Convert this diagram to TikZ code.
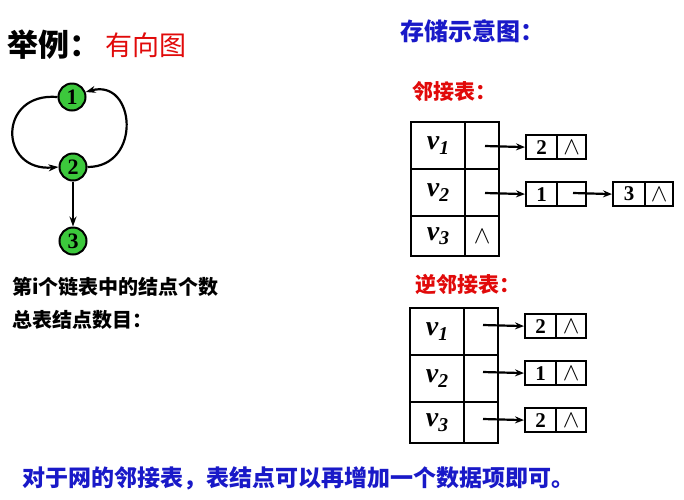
\documentclass[tikz,border=0pt]{standalone}
\usepackage{fontspec}
\newfontfamily\cjk{Noto Sans CJK SC}
\newfontfamily\tms{Liberation Serif}
\usetikzlibrary{arrows.meta}
\definecolor{gnode}{RGB}{60,200,60}
\definecolor{tred}{RGB}{225,10,10}
\definecolor{tblue}{RGB}{25,25,200}
\newcommand\fsz[1]{\fontsize{#1}{#1}\selectfont}
\newcommand\vv[1]{{\tms\bfseries\itshape\fsz{28}v\textsubscript{#1}}}
\newcommand\nil{{\fsz{24}$\wedge$}}
\begin{document}
\begin{tikzpicture}[x=1pt,y=-1pt,
  txt/.style={anchor=west, inner sep=0pt},
  gn/.style={circle, draw, line width=2pt, fill=gnode, minimum size=27pt, inner sep=0pt, font={\tms\bfseries\fsz{22}}},
  garrow/.style={-{Stealth[length=10pt,width=7pt]}, line width=2.2pt},
  cellA/.style={draw, line width=2.4pt, minimum width=54pt, inner sep=0pt, anchor=north west},
  cellB/.style={draw, line width=2.4pt, minimum width=34pt, inner sep=0pt, anchor=north west},
  fld/.style={draw, line width=2.2pt, minimum height=24pt, inner sep=0pt, anchor=north west, font={\tms\bfseries\fsz{21}}},
  ptr/.style={-{Stealth[length=9pt,width=7pt]}, line width=2.2pt}]
\useasboundingbox[fill=white] (0,0) rectangle (684,499);

% titles
\node[txt] (title) at (7,45) {\cjk\bfseries\fsz{31}举例：};
\node[txt, text=tred] (sub) at (105,45) {\cjk\fsz{27}有向图};
\node[txt, text=tblue] (store) at (400,31) {\cjk\bfseries\fsz{24}存储示意图：};
\node[txt, text=tred] (adjt) at (412,92) {\cjk\bfseries\fsz{21}邻接表：};
\node[txt, text=tred] (iadjt) at (415,284) {\cjk\bfseries\fsz{21}逆邻接表：};
\node[txt] (q1) at (12,287) {\cjk\bfseries\fsz{20}第i个链表中的结点个数};
\node[txt] (q2) at (12,320) {\cjk\bfseries\fsz{20}总表结点数目：};
\node[txt, text=tblue] (note) at (22,478) {\cjk\bfseries\fsz{23}对于网的邻接表，表结点可以再增加一个数据项即可。};

% graph
\node[gn] (n1) at (72,97) {1};
\node[gn] (n2) at (73,167) {2};
\node[gn] (n3) at (73,241) {3};
\draw[garrow] (n1.west) .. controls +(-60,-5) and +(-60,5) .. (n2.west);
\draw[garrow] (n2.east) .. controls +(55,0) and +(50,-14) .. (n1.20);
\draw[garrow] (n2) -- (n3);

% adjacency list
\node[cellA, minimum height=47pt] (av1) at (410,121) {\vv{1}};
\node[cellB, minimum height=47pt] (ap1) at (464,121) {};
\node[cellA, minimum height=47pt] (av2) at (410,168) {\vv{2}};
\node[cellB, minimum height=47pt] (ap2) at (464,168) {};
\node[cellA, minimum height=40pt] (av3) at (410,215) {\vv{3}};
\node[cellB, minimum height=40pt] (ap3) at (464,215) {\nil};

\node[fld, minimum width=31pt] (l1a) at (525,134) {2};
\node[fld, minimum width=29pt] (l1b) at (556,134) {\nil};
\node[fld, minimum width=31pt] (l2a) at (525,181) {1};
\node[fld, minimum width=29pt] (l2b) at (556,181) {};
\node[fld, minimum width=32pt] (l3a) at (612,181) {3};
\node[fld, minimum width=28pt] (l3b) at (644,181) {\nil};

\coordinate (s1) at (485,146);
\coordinate (s2) at (485,193);
\coordinate (s3) at (573,193);
\draw[ptr] (s1) -- (l1a.west);
\draw[ptr] (s2) -- (l2a.west);
\draw[ptr] (s3) -- (l3a.west);

% inverse adjacency list
\node[cellA, minimum height=47pt] (bv1) at (409,307) {\vv{1}};
\node[cellB, minimum height=47pt] (bp1) at (463,307) {};
\node[cellA, minimum height=47pt] (bv2) at (409,354) {\vv{2}};
\node[cellB, minimum height=47pt] (bp2) at (463,354) {};
\node[cellA, minimum height=41pt] (bv3) at (409,401) {\vv{3}};
\node[cellB, minimum height=41pt] (bp3) at (463,401) {};

\node[fld, minimum width=31pt] (m1a) at (524,313) {2};
\node[fld, minimum width=30pt] (m1b) at (555,313) {\nil};
\node[fld, minimum width=31pt] (m2a) at (524,360) {1};
\node[fld, minimum width=30pt] (m2b) at (555,360) {\nil};
\node[fld, minimum width=31pt] (m3a) at (524,407) {2};
\node[fld, minimum width=30pt] (m3b) at (555,407) {\nil};

\coordinate (t1) at (483,325);
\coordinate (t2) at (483,372);
\coordinate (t3) at (483,419);
\draw[ptr] (t1) -- (m1a.west);
\draw[ptr] (t2) -- (m2a.west);
\draw[ptr] (t3) -- (m3a.west);
\end{tikzpicture}
\end{document}
